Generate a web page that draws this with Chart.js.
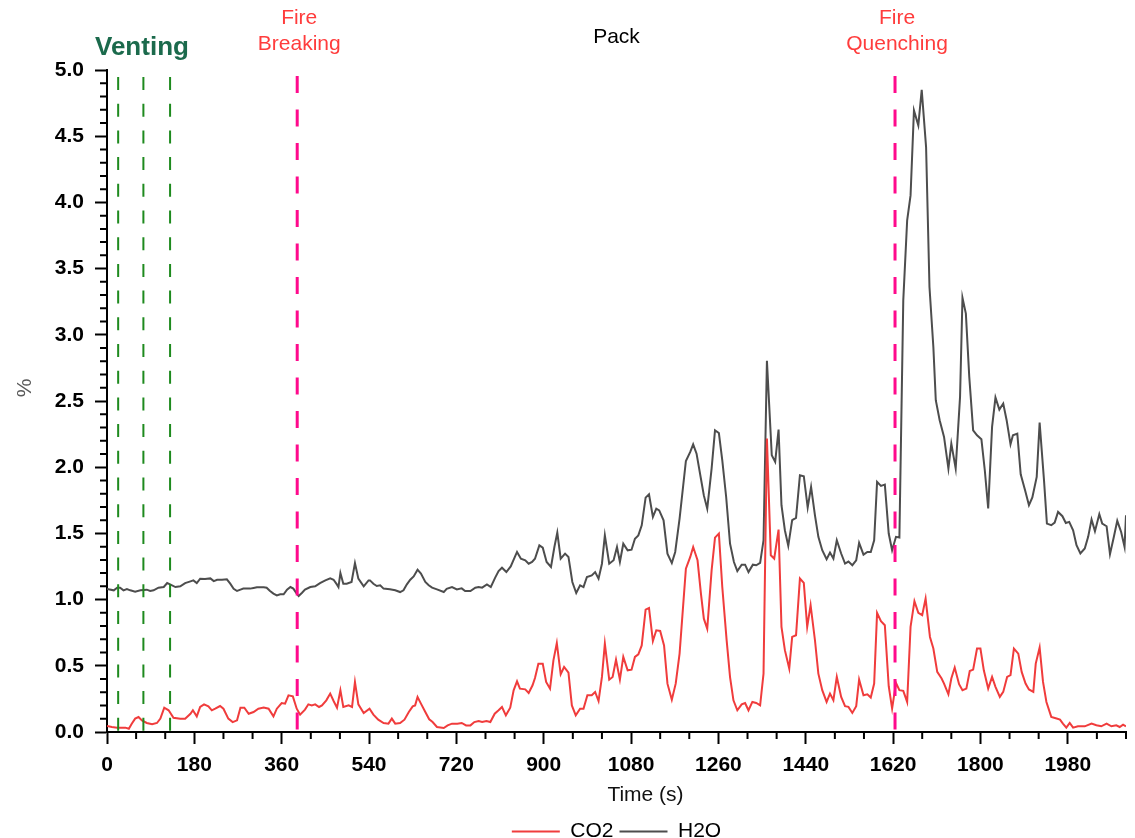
<!DOCTYPE html>
<html>
<head>
<meta charset="utf-8">
<script src="https://cdn.jsdelivr.net/npm/chart.js@4.4.1/dist/chart.umd.min.js"></script>
<style>
html,body{margin:0;padding:0;background:#fff;}
#wrap{width:1135px;height:838px;}
</style>
</head>
<body>
<div id="wrap"><canvas id="chart" width="1135" height="838"></canvas></div>
<script>
const co2Time = [0,10,21,31,38,45,51,58,65,72,82,93,103,110,118,127,137,151,161,172,177,185,192,200,209,216,223,233,240,250,259,268,275,283,292,302,312,323,333,343,350,360,367,374,383,391,398,408,415,422,429,437,443,452,460,467,474,481,487,498,505,511,518,529,541,549,559,570,580,587,594,604,
613,622,630,635,640,647,656,664,671,680,694,702,711,722,731,740,749,757,766,773,782,790,799,807,814,822,831,838,845,851,862,869,877,882,889,898,905,913,920,927,935,942,951,958,966,975,982,990,999,1006,1013,1020,1026,1035,1042,1049,1057,1064,1073,1081,1088,1095,1102,1110,1117,1125,1132,1140,1148,1155,1164,1172,1180,1193,1202,1208,1217,1224,1230,1237,1246,1253,1261,1268,1277,1284,1291,1299,1308,1315,1322,1330,1338,
1346,1353,1360,1368,1375,1384,1390,1397,1406,1412,1420,1428,1436,1443,1450,1459,1466,1474,1483,1490,1497,1504,1513,1521,1528,1536,1544,1550,1559,1567,1574,1581,1587,1595,1603,1611,1618,1626,1633,1641,1649,1656,1664,1672,1680,1687,1696,1703,1711,1720,1725,1734,1740,1747,1756,1763,1771,1778,1785,1793,1800,1807,1816,1824,1831,1840,1847,1855,1862,1869,1878,1885,1893,1900,1909,1914,1922,1929,1936,1946,1957,1964,1970,1977,1984,1991,2001,2015,2029,2039,2049,2060,2070,2080,2087,2094,2100];
const co2Val = [0.045,0.038,0.033,0.033,0.033,0.025,0.063,0.101,0.113,0.088,0.068,0.058,0.068,0.101,0.184,0.164,0.108,0.101,0.101,0.138,0.164,0.118,0.189,0.209,0.194,0.164,0.176,0.196,0.176,0.101,0.075,0.088,0.184,0.184,0.138,0.151,0.176,0.184,0.176,0.118,0.176,0.219,0.214,0.277,0.269,0.176,0.131,0.169,0.209,0.201,0.209,0.189,0.201,0.239,0.29,0.234,0.184,0.315,0.189,0.201,0.189,0.378,0.209,0.143,0.176,0.131,0.093,0.068,0.063,0.101,0.063,0.068,
0.093,0.151,0.194,0.201,0.264,0.214,0.151,0.096,0.075,0.038,0.03,0.05,0.063,0.063,0.068,0.05,0.05,0.075,0.083,0.075,0.083,0.075,0.138,0.164,0.189,0.126,0.184,0.315,0.383,0.327,0.322,0.295,0.353,0.408,0.516,0.516,0.378,0.327,0.541,0.672,0.436,0.491,0.448,0.201,0.126,0.176,0.176,0.277,0.277,0.302,0.234,0.416,0.667,0.395,0.415,0.546,0.395,0.567,0.466,0.471,0.567,0.587,0.654,0.924,0.937,0.687,0.768,0.763,0.654,0.365,0.244,0.365,0.592,1.234,1.322,1.397,1.297,1.045,0.856,0.78,1.221,1.468,1.498,1.095,0.692,0.415,0.239,0.164,0.209,0.219,0.164,0.227,0.219,
0.202,0.441,2.216,1.335,1.31,1.529,0.794,0.618,0.479,0.718,0.731,1.159,1.126,0.794,0.958,0.693,0.441,0.316,0.227,0.29,0.24,0.416,0.265,0.195,0.19,0.144,0.195,0.396,0.278,0.285,0.26,0.366,0.9,0.837,0.806,0.346,0.177,0.371,0.316,0.311,0.227,0.794,0.988,0.9,0.882,1.008,0.718,0.63,0.454,0.404,0.366,0.285,0.404,0.487,0.361,0.316,0.328,0.461,0.471,0.63,0.63,0.466,0.328,0.416,0.341,0.265,0.303,0.416,0.429,0.63,0.592,0.454,0.366,0.321,0.303,0.517,0.638,0.378,0.227,0.114,0.102,0.094,0.064,0.033,0.069,0.033,0.043,0.043,0.064,0.051,0.043,0.064,0.043,0.051,0.038,0.056,0.043];

const h2oTime = [0,14,21,27,34,41,48,58,69,82,89,96,106,117,124,130,141,151,161,172,178,185,192,202,213,220,227,237,247,254,261,268,275,281,295,302,309,323,329,336,343,350,357,364,371,378,384,391,395,402,408,419,429,439,450,460,467,474,477,481,487,494,504,511,518,529,539,542,549,556,563,570,583,594,604,
611,618,625,632,640,647,656,663,670,680,694,700,711,721,731,738,749,759,766,773,783,791,800,807,814,823,832,845,853,862,869,876,882,891,898,906,915,922,928,935,944,951,959,967,975,982,989,999,1006,1013,1020,1026,1035,1044,1051,1057,1064,1073,1081,1088,1095,1102,1110,1117,1125,1132,1138,1147,1155,1164,1171,1180,1193,1202,1208,1215,1224,1230,1237,1246,1253,1261,1268,1276,1284,1292,1299,1308,1315,1322,1331,1338,
1346,1353,1360,1370,1377,1384,1390,1397,1404,1412,1420,1428,1436,1444,1451,1459,1466,1474,1483,1490,1497,1504,1513,1521,1528,1536,1544,1550,1559,1567,1574,1581,1587,1595,1603,1611,1618,1626,1633,1641,1649,1656,1663,1672,1679,1688,1695,1703,1708,1716,1725,1734,1740,1749,1758,1763,1770,1777,1785,1793,1802,1809,1816,1824,1831,1839,1847,1854,1862,1867,1876,1883,1892,1900,1907,1916,1922,1931,1937,1946,1953,1960,1969,1976,1983,1991,1998,2006,2015,2022,2029,2036,2045,2051,2060,2067,2075,2082,2090,2097,2100];
const h2oVal = [1.08,1.07,1.09,1.09,1.07,1.08,1.07,1.06,1.07,1.075,1.065,1.07,1.09,1.095,1.125,1.115,1.095,1.10,1.125,1.138,1.145,1.125,1.158,1.155,1.16,1.14,1.15,1.15,1.153,1.12,1.082,1.065,1.075,1.083,1.083,1.088,1.093,1.093,1.09,1.065,1.045,1.032,1.04,1.04,1.075,1.095,1.083,1.045,1.027,1.052,1.075,1.095,1.10,1.125,1.145,1.16,1.15,1.113,1.095,1.201,1.12,1.12,1.133,1.276,1.158,1.10,1.145,1.145,1.12,1.103,1.108,1.083,1.078,1.07,1.057,
1.07,1.115,1.15,1.175,1.226,1.196,1.133,1.108,1.09,1.077,1.057,1.082,1.095,1.077,1.085,1.065,1.065,1.09,1.095,1.09,1.115,1.095,1.166,1.216,1.241,1.208,1.251,1.36,1.309,1.297,1.271,1.284,1.309,1.41,1.392,1.284,1.246,1.397,1.506,1.309,1.347,1.322,1.133,1.05,1.108,1.095,1.171,1.183,1.208,1.158,1.271,1.485,1.271,1.297,1.397,1.284,1.422,1.372,1.377,1.46,1.485,1.561,1.77,1.795,1.624,1.687,1.674,1.599,1.347,1.276,1.36,1.611,2.047,2.115,2.173,2.102,1.913,1.787,1.687,1.989,2.278,2.258,2.052,1.775,1.422,1.284,1.216,1.264,1.264,1.208,1.264,1.259,
1.277,1.448,2.803,2.09,2.04,2.284,1.713,1.524,1.406,1.6,1.617,1.939,1.932,1.695,1.851,1.637,1.474,1.373,1.305,1.355,1.31,1.448,1.348,1.272,1.287,1.26,1.297,1.428,1.34,1.36,1.36,1.448,1.889,1.859,1.869,1.499,1.373,1.474,1.469,3.26,3.865,4.053,4.695,4.582,4.851,4.418,3.361,2.908,2.506,2.355,2.229,1.99,2.178,1.99,2.531,3.28,3.16,2.682,2.279,2.241,2.211,1.977,1.688,2.304,2.526,2.435,2.481,2.355,2.173,2.241,2.254,1.947,1.826,1.713,1.771,1.927,2.337,1.902,1.574,1.562,1.582,1.662,1.63,1.579,1.587,1.524,1.411,1.348,1.386,1.474,1.605,1.517,1.645,1.574,1.554,1.343,1.474,1.595,1.511,1.398,1.637];

const xTickVals = [0,180,360,540,720,900,1080,1260,1440,1620,1800,1980];
const yTickVals = [0,0.5,1,1.5,2,2.5,3,3.5,4,4.5,5];
const ventingTimes = [23,75,130];
const fireTimes = [392,1624];
const fireLabels = [["Fire","Breaking"],["Fire","Quenching"]];

const FONT = "'Liberation Sans', Arial, sans-serif";

const extras = {
  id:'extras',
  afterDatasetsDraw(chart){
    const {ctx, scales:{x,y}} = chart;
    ctx.save();
    ctx.strokeStyle = '#1e8a1e';
    ctx.lineWidth = 2;
    ctx.setLineDash([13,13.7]);
    ventingTimes.forEach(t=>{
      const px = x.getPixelForValue(t);
      ctx.beginPath(); ctx.moveTo(px, y.top+7); ctx.lineTo(px, y.bottom); ctx.stroke();
    });
    ctx.strokeStyle = '#ff0a8c';
    ctx.lineWidth = 3;
    ctx.setLineDash([17,16.5]);
    fireTimes.forEach(t=>{
      const px = x.getPixelForValue(t);
      ctx.beginPath(); ctx.moveTo(px, y.top+6); ctx.lineTo(px, y.bottom); ctx.stroke();
    });
    ctx.restore();
  },
  afterDraw(chart){
    const {ctx, scales:{x,y}, chartArea} = chart;
    ctx.save();
    // minor ticks
    ctx.strokeStyle = '#000';
    ctx.lineWidth = 2;
    ctx.beginPath();
    for(let v=60; v<=2100; v+=60){
      if(v%180===0) continue;
      const px = x.getPixelForValue(v);
      ctx.moveTo(px, y.bottom); ctx.lineTo(px, y.bottom+7);
    }
    for(let i=1; i<50; i++){
      if(i%5===0) continue;
      const py = y.getPixelForValue(i/10);
      ctx.moveTo(x.left, py); ctx.lineTo(x.left-7, py);
    }
    ctx.stroke();

    // texts
    ctx.textBaseline = 'middle';
    ctx.textAlign = 'left';
    ctx.fillStyle = '#1b6a4c';
    ctx.font = 'bold 26px ' + FONT;
    ctx.fillText('Venting', chartArea.left-12, 48);

    ctx.textAlign = 'center';
    ctx.font = '21px ' + FONT;
    ctx.fillStyle = '#ff3c3c';
    fireTimes.forEach((t,i)=>{
      const px = x.getPixelForValue(t)+2;
      ctx.fillText(fireLabels[i][0], px, 18);
      ctx.fillText(fireLabels[i][1], px, 44);
    });
    ctx.fillStyle = '#000';
    ctx.fillText('Pack', (chartArea.left+chartArea.right)/2, 37);

    ctx.fillStyle = '#111';
    ctx.fillText('Time (s)', (chartArea.left+chartArea.right)/2+29, 795);

    ctx.translate(25, 388);
    ctx.rotate(-Math.PI/2);
    ctx.fillStyle = '#5a5a5a';
    ctx.fillText('%', 0, 0);
    ctx.restore();
  }
};

const axisCommon = {
  grid:{display:true, drawOnChartArea:false, drawTicks:true, tickLength:12, tickWidth:2, tickColor:'#000'},
  border:{display:true, color:'#000', width:2},
  ticks:{color:'#000', font:{family:FONT, size:21, weight:'bold'}, padding:9, autoSkip:false, maxRotation:0}
};

new Chart(document.getElementById('chart'), {
  type:'line',
  data:{
    datasets:[
      {label:'CO2', data:co2Time.map((t,i)=>({x:t, y:co2Val[i]})), borderColor:'#f03c3c', backgroundColor:'#f03c3c', borderWidth:2, pointRadius:0, tension:0},
      {label:'H2O', data:h2oTime.map((t,i)=>({x:t, y:h2oVal[i]})), borderColor:'#4d4d4d', backgroundColor:'#4d4d4d', borderWidth:2, pointRadius:0, tension:0}
    ]
  },
  options:{
    responsive:false,
    animation:false,
    devicePixelRatio:1,
    layout:{padding:{top:70, right:9, left:0, bottom:-14}},
    plugins:{
      legend:{
        position:'bottom',
        fullSize:false,
        labels:{usePointStyle:true, pointStyle:'line', pointStyleWidth:48, color:'#000', padding:6, font:{family:FONT, size:21}}
      },
      tooltip:{enabled:false}
    },
    scales:{
      x:{
        ...axisCommon,
        type:'linear', min:0, max:2100,
        afterBuildTicks:s=>{ s.ticks = xTickVals.map(v=>({value:v})); },
        afterFit:s=>{ s.height = 83; },
        ticks:{...axisCommon.ticks, callback:v=>String(v)}
      },
      y:{
        ...axisCommon,
        min:0, max:5,
        afterBuildTicks:s=>{ s.ticks = yTickVals.map(v=>({value:v})); },
        afterFit:s=>{ s.width = 107; },
        ticks:{...axisCommon.ticks, padding:11, callback:v=>v.toFixed(1)}
      }
    }
  },
  plugins:[extras]
});
</script>
</body>
</html>
